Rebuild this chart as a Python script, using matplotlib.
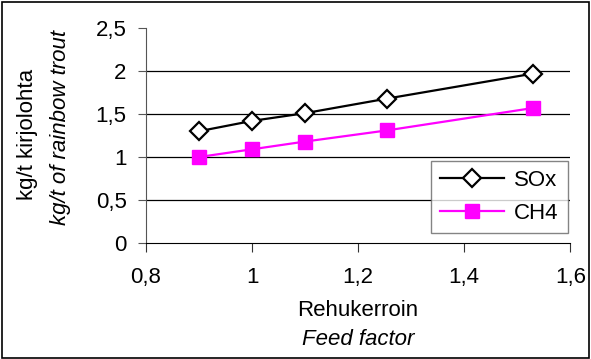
import matplotlib.pyplot as plt
from matplotlib.patches import Rectangle

plt.rcParams['font.family'] = ['Liberation Sans', 'DejaVu Sans']

# feed factor and emissions (kg/t of rainbow trout)
feed_factor = [0.9, 1.0, 1.1, 1.255, 1.53]
sox = [1.30, 1.42, 1.51, 1.68, 1.97]
ch4 = [1.00, 1.09, 1.18, 1.31, 1.57]

x_ticks = [0.8, 1.0, 1.2, 1.4, 1.6]
x_labels = ['0,8', '1', '1,2', '1,4', '1,6']
y_ticks = [0, 0.5, 1, 1.5, 2, 2.5]
y_labels = ['0', '0,5', '1', '1,5', '2', '2,5']

fs = 16

fig = plt.figure(figsize=(5.91, 3.59), dpi=100)
ax = fig.add_axes([0.247, 0.323, 0.718, 0.599])

# horizontal gridlines
for g in [0.5, 1, 1.5, 2]:
    ax.axhline(g, color='black', lw=0.9, zorder=1)

ax.plot(feed_factor, sox, color='black', lw=1.6, marker='D', markersize=9,
        markerfacecolor='white', markeredgecolor='black', markeredgewidth=1.6,
        label='SOx', zorder=3)
ax.plot(feed_factor, ch4, color='#ff00ff', lw=1.6, marker='s', markersize=10,
        markerfacecolor='#ff00ff', markeredgecolor='#ff00ff',
        label='CH4', zorder=3)

ax.set_xlim(0.8, 1.6)
ax.set_ylim(0, 2.5)
ax.set_xticks(x_ticks)
ax.set_xticklabels(x_labels, fontsize=fs)
ax.set_yticks(y_ticks)
ax.set_yticklabels(y_labels, fontsize=fs)
ax.tick_params(axis='x', direction='out', length=6.5, color='#333333', pad=11)
ax.tick_params(axis='y', direction='out', length=6, color='#555555', pad=8)

ax.spines['top'].set_visible(False)
ax.spines['right'].set_visible(False)
ax.spines['left'].set_color('#555555')
ax.spines['bottom'].set_color('black')

leg = ax.legend(loc='upper left', bbox_to_anchor=(0.729, 0.552),
                bbox_transform=fig.transFigure, fontsize=fs,
                frameon=True, fancybox=False, edgecolor='#666666',
                handlelength=2.9, handletextpad=0.45, borderpad=0.4,
                labelspacing=0.55, borderaxespad=0)
leg.get_frame().set_linewidth(1.0)

# axis titles (two lines, second in italics)
fig.text(0.606, 0.136, 'Rehukerroin', ha='center', va='center', fontsize=fs)
fig.text(0.606, 0.053, 'Feed factor', ha='center', va='center', fontsize=fs,
         style='italic')
fig.text(0.047, 0.625, 'kg/t kirjolohta', ha='center', va='center', rotation=90,
         fontsize=fs)
fig.text(0.102, 0.645, 'kg/t of rainbow trout', ha='center', va='center',
         rotation=90, fontsize=fs, style='italic')

# outer border
fig.add_artist(Rectangle((0.003, 0.004), 0.993, 0.99, transform=fig.transFigure,
                         fill=False, edgecolor='black', lw=1.2))

fig.savefig('out.png', dpi=100)
